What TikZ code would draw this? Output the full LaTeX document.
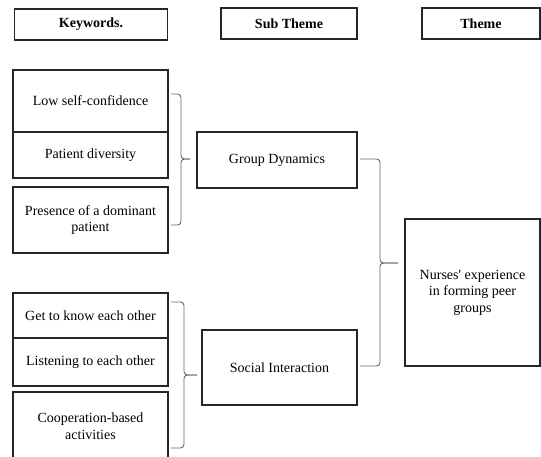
\documentclass[tikz,border=0pt]{standalone}
\usepackage{fontspec}
\setmainfont{Liberation Serif}
\usetikzlibrary{positioning}
\tikzset{box/.style={draw=black!85, line width=1.2pt, align=center, inner sep=2pt, font=\fontsize{14}{16.5}\selectfont},
  head/.style={box, font=\bfseries\fontsize{14}{16.5}\selectfont},
  brace/.style={draw=black!60, line width=0.9pt, rounded corners=3.5pt}}

\begin{document}
\begin{tikzpicture}[x=1pt,y=-1pt]
   \useasboundingbox (0,0) rectangle (541,457);
   \node[head, minimum width=153pt, minimum height=31pt] (kwhead) at (91,24.5) {Keywords.};
   \node[head, minimum width=136pt, minimum height=31pt] (subhead) at (289,23.5) {Sub Theme};
   \node[head, minimum width=118pt, minimum height=31pt] (themehead) at (481,23.5) {Theme};
   \node[box, minimum width=155pt, minimum height=62pt] (lowconf) at (90.5,101) {Low self-confidence};
   \node[box, minimum width=155pt, minimum height=46pt] (diversity) at (90.5,155) {Patient diversity};
   \node[box, minimum width=155pt, minimum height=66pt] (dominant) at (90.5,220) {Presence of a dominant\\patient};
   \node[box, minimum width=160pt, minimum height=56pt] (groupdyn) at (277,160) {Group Dynamics};
   \node[box, minimum width=135pt, minimum height=147pt] (theme) at (472.5,292.5) {Nurses\textquotesingle{} experience\\in forming peer\\groups};
   \node[box, minimum width=155pt, minimum height=45pt] (knowother) at (90.5,315.5) {Get to know each other};
   \node[box, minimum width=155pt, minimum height=48pt] (listening) at (90.5,362) {Listening to each other};
   \node[box, minimum width=155pt, minimum height=68pt] (cooperation) at (90.5,426) {Cooperation-based\\activities};
   \node[box, minimum width=155pt, minimum height=75pt] (socialint) at (279.5,367.5) {Social Interaction};
   \coordinate (tipone) at (190,159);
   \coordinate (tiptwo) at (398,263);
   \coordinate (tipthree) at (197,375);
   \draw[brace] (171,94) -- (181,94) -- (181,159) -- (tipone);
   \draw[brace] (tipone) -- (181,159) -- (181,225) -- (171,225);
   \draw[brace] (360,159) -- (380,159) -- (380,263) -- (tiptwo);
   \draw[brace] (tiptwo) -- (380,263) -- (380,366) -- (360,366);
   \draw[brace] (171,302) -- (184,302) -- (184,375) -- (tipthree);
   \draw[brace] (tipthree) -- (184,375) -- (184,448) -- (171,448);
  \end{tikzpicture}
\end{document}
